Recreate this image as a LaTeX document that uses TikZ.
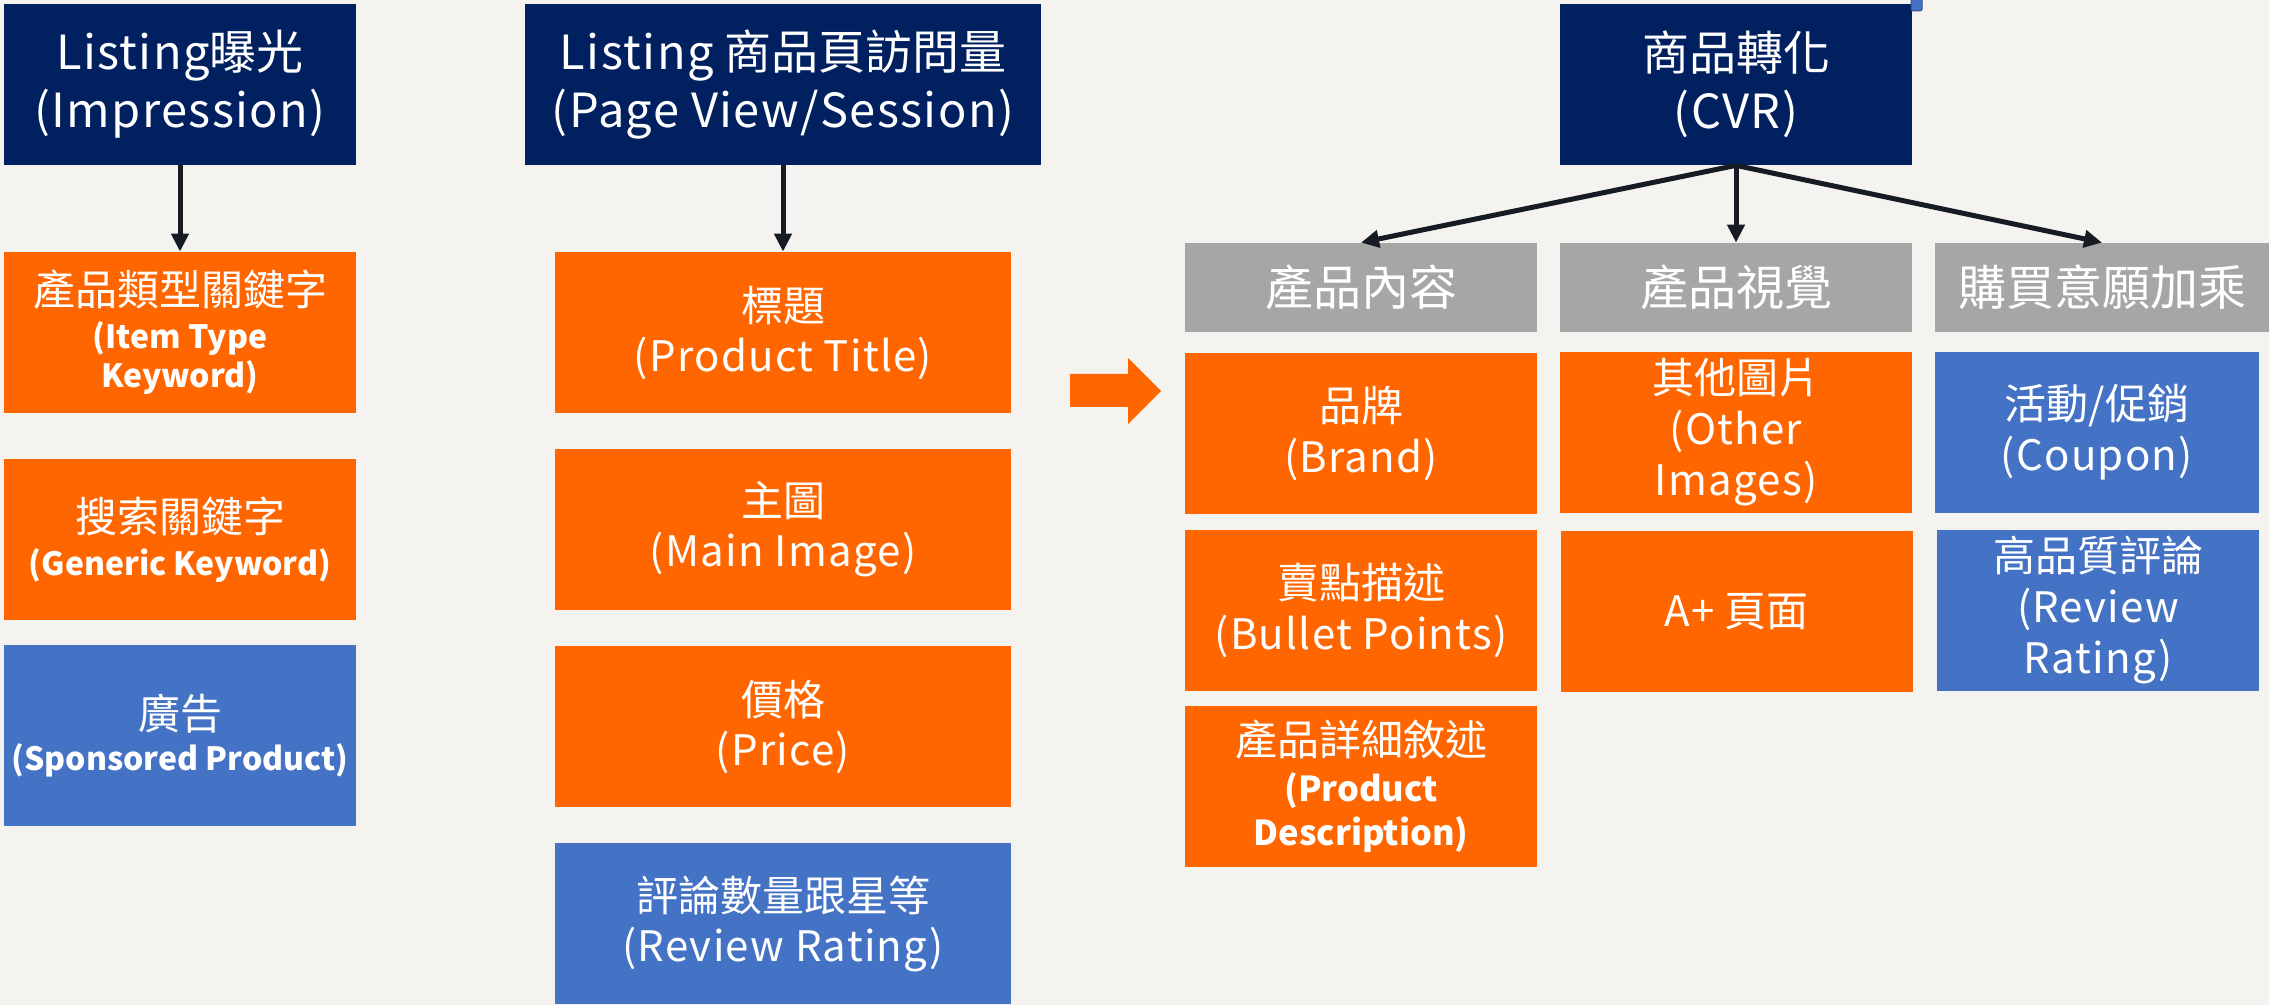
\documentclass[tikz,border=0pt]{standalone}
\usepackage{fontspec}
\setmainfont{Noto Sans CJK TC}
\newfontfamily\enf{Noto Sans CJK TC}[LetterSpace=3]
\usetikzlibrary{arrows.meta}
\definecolor{navy}{HTML}{002060}
\definecolor{org}{HTML}{FF6600}
\definecolor{blu}{HTML}{4472C4}
\definecolor{gry}{HTML}{A6A6A6}
\definecolor{bgc}{HTML}{F4F3EF}
\definecolor{arr}{HTML}{171B24}
\newcommand\en[1]{{\enf #1}}
\newcommand\bd[1]{{\fontsize{16}{19.5}\selectfont\bfseries #1}}
\newcommand\bdr[1]{{\fontsize{17.2}{19.5}\selectfont\bfseries #1}}
\begin{document}
\begin{tikzpicture}[x=0.5pt,y=-0.5pt,
  box/.style={inner sep=0pt, align=center, text=white, minimum height=80.5pt},
  ttlbox/.style={box, fill=navy, font=\fontsize{23.5}{29}\selectfont},
  lbox/.style={box, minimum width=176pt, font=\fontsize{21}{19.5}\selectfont},
  mbox/.style={box, minimum width=228pt, font=\fontsize{21}{25}\selectfont},
  rbox/.style={box, minimum width=176pt, font=\fontsize{21}{25.5}\selectfont},
  gbox/.style={box, fill=gry, minimum height=44.5pt, font=\fontsize{24}{28}\selectfont},
  conn/.style={draw=arr, line width=2.5pt, -{Triangle[length=9pt,width=8.5pt]}}
]
\fill[bgc] (0,0) rectangle (2269,1005);
\useasboundingbox (0,0) rectangle (2269,1005);

% top level boxes
\node[ttlbox, minimum width=176pt] (imp) at (180,84.5) {\en{Listing}曝光\\\en{(Impression)}};
\node[ttlbox, minimum width=258pt] (pv) at (783,84.5) {\en{Listing} 商品頁訪問量\\\en{(Page View/Session)}};
\node[ttlbox, minimum width=176pt] (cvr) at (1736,84.5) {商品轉化\\\en{(CVR)}};

% left column
\node[lbox, fill=org] (itk) at (180,332.5) {產品類型關鍵字\\[2pt]\bd{(Item Type}\\\bd{Keyword)}};
\node[lbox, fill=org] (gkw) at (180,539.5) {搜索關鍵字\\[2pt]\bd{(Generic Keyword)}};
\node[lbox, fill=blu, minimum height=90.5pt] (spo) at (180,735.5) {廣告\\[1pt]\bd{(Sponsored Product)}};

% middle column
\node[mbox, fill=org] (ttl) at (783,332.5) {標題\\\en{(Product Title)}};
\node[mbox, fill=org] (mimg) at (783,529.5) {主圖\\\en{(Main Image)}};
\node[mbox, fill=org] (prc) at (783,726.5) {價格\\\en{(Price)}};
\node[mbox, fill=blu] (rvw) at (783,923.5) {評論數量跟星等\\\en{(Review Rating)}};

% right headers
\node[gbox, minimum width=176pt] (g1) at (1361,287.5) {產品內容};
\node[gbox, minimum width=176pt] (g2) at (1736,287.5) {產品視覺};
\node[gbox, minimum width=167pt] (g3) at (2102,287.5) {購買意願加乘};

% right columns
\node[rbox, fill=org] (brd) at (1361,433.5) {品牌\\\en{(Brand)}};
\node[rbox, fill=org] (blt) at (1361,610.5) {賣點描述\\\en{(Bullet Points)}};
\node[rbox, fill=org, font=\fontsize{21}{21.8}\selectfont] (dsc) at (1361,786.5) {產品詳細敘述\\[1.2pt]\bdr{(Product}\\\bdr{Description)}};
\node[rbox, fill=org] (oth) at (1736,432.5) {其他圖片\\\en{(Other}\\\en{Images)}};
\node[rbox, fill=org] (apl) at (1736.5,611.5) {\en{A+} 頁面};
\node[rbox, fill=blu, minimum width=162pt] (cpn) at (2097,432.5) {活動/促銷\\\en{(Coupon)}};
\node[rbox, fill=blu, minimum width=161pt] (rvr) at (2098,610.5) {高品質評論\\\en{(Review}\\\en{Rating)}};

% connectors
\draw[conn] (imp.south) -- (itk.north);
\draw[conn] (pv.south) -- (ttl.north);
\draw[conn] (cvr.south) -- (g1.north);
\draw[conn] (cvr.south) -- (g2.north);
\draw[conn] (cvr.south) -- (g3.north);

% block arrow
\fill[org] (1070,374) -- (1128,374) -- (1128,358) -- (1161,391) -- (1128,424) -- (1128,407) -- (1070,407) -- cycle;

% small selection marker
\filldraw[fill=blu, draw=blu!70!black, line width=0.5pt, rounded corners=1pt] (1911,-3) rectangle (1922,11);
\end{tikzpicture}
\end{document}
